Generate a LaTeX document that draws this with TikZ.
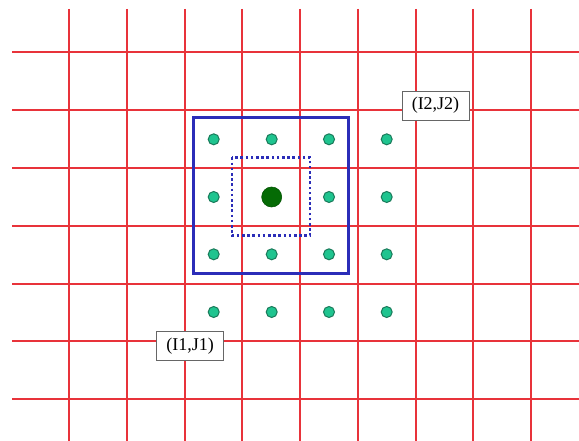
\documentclass[tikz,border=0pt]{standalone}
\usepackage{fontspec}
\setmainfont{Liberation Serif}
\definecolor{gridred}{HTML}{E8333A}
\definecolor{boxblue}{HTML}{2B2DB8}
\definecolor{dotteal}{HTML}{1FC48F}
\definecolor{dotedge}{HTML}{1A7A5A}
\definecolor{bigdot}{HTML}{056B05}
\tikzset{
  gridline/.style={gridred, line width=1.6pt},
  smalldot/.style={circle, fill=dotteal, draw=dotedge, line width=1pt, minimum size=11pt, inner sep=0pt},
  centerdot/.style={circle, fill=bigdot, draw=bigdot!80!black, line width=0.6pt, minimum size=20pt, inner sep=0pt},
  labelbox/.style={draw=gray!80!black, fill=white, line width=0.8pt, font=\fontsize{18}{18}\selectfont, inner sep=0pt, minimum width=67pt, minimum height=29pt},
  outerbox/.style={draw=boxblue, line width=3pt},
  innerbox/.style={draw=boxblue, line width=2.6pt, dash pattern=on 2.6pt off 2.6pt}
}
\begin{document}
\begin{tikzpicture}[x=1pt,y=-1pt]
\useasboundingbox (0,0) rectangle (579,441);
\fill[white] (0,0) rectangle (579,441);
% grid
\foreach \y in {52,110,168,226,284,341,399} {
  \draw[gridline] (12,\y) -- (579,\y);
}
\foreach \x in {69,127,185,242,300,358,416,473,531} {
  \draw[gridline] (\x,9) -- (\x,441);
}
% boxes
\draw[outerbox] (193,118) rectangle (348,273.3);
\draw[innerbox] (231.8,157.5) rectangle (310,235.7);
% dots
\foreach \x [count=\i] in {213.7,271.7,329,386.7} {
  \foreach \y [count=\j] in {139.3,197,254.3,312} {
    \ifnum\i=2 \ifnum\j=2 \else
      \node[smalldot] (d\i\j) at (\x,\y) {};
    \fi\else
      \node[smalldot] (d\i\j) at (\x,\y) {};
    \fi
  }
}
\node[centerdot] (center) at (271.7,197) {};
% labels
\node[labelbox] (ij2) at (435.5,105.5) {(I2,J2)};
\node[labelbox] (ij1) at (190.2,346.2) {(I1,J1)};
\end{tikzpicture}
\end{document}
